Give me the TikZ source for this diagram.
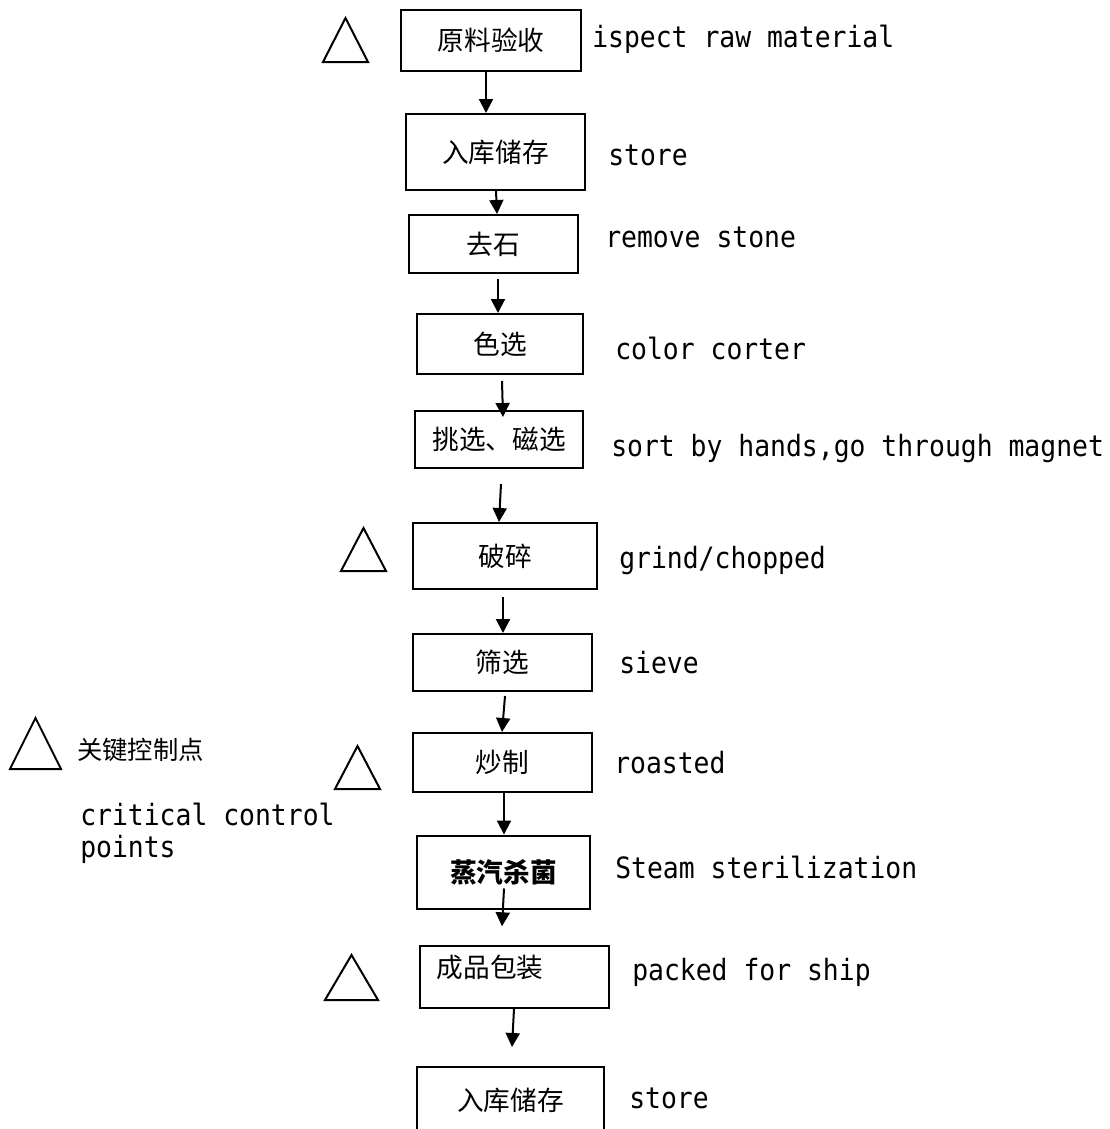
\documentclass[tikz,border=0pt]{standalone}
\usepackage{fontspec}
\usetikzlibrary{arrows.meta,calc}
\newfontfamily\cjk{Noto Sans CJK SC}
\newfontfamily\enmono[FakeStretch=0.9]{DejaVu Sans Mono}
\begin{document}
\begin{tikzpicture}[x=0.75pt,y=-0.75pt,
  box/.style={draw,line width=1.5pt,rectangle,inner sep=0pt,font=\cjk\fontsize{20}{20}\selectfont},
  sz/.style 2 args={minimum width=#1*0.75pt,minimum height=#2*0.75pt},
  en/.style={anchor=base west,inner sep=0pt,font=\enmono\fontsize{22}{26}\selectfont},
  arr/.style={line width=1.5pt,-{Triangle[width=10.5pt,length=10.5pt]}},
  ccp/.style={line width=1.5pt,line join=miter}]
\useasboundingbox (0,0) rectangle (1110,1129);
\clip (0,0) rectangle (1110,1129);
\fill[white] (0,0) rectangle (1110,1129);

% process boxes
\node[box,sz={180}{61}] (b1) at (491,40.5) {原料验收};
\node[box,sz={179}{76}] (b2) at (495.5,152) {入库储存};
\node[box,sz={169}{58}] (b3) at (493.5,244) {去石};
\node[box,sz={166}{60}] (b4) at (500,344) {色选};
\node[box,sz={168}{57}] (b5) at (499,439.5) {挑选、磁选};
\node[box,sz={184}{66}] (b6) at (505,556) {破碎};
\node[box,sz={179}{57}] (b7) at (502.5,662.5) {筛选};
\node[box,sz={179}{59}] (b8) at (502.5,762.5) {炒制};
\node[box,sz={173}{73},line width=2.2pt,font=\cjk\bfseries\fontsize{20}{20}\selectfont] (b9) at (503.5,872.5) {蒸汽杀菌};
\node[box,sz={189}{62},line width=1pt] (b10) at (514.5,977) {};
\node[inner sep=0pt,font=\cjk\fontsize{20}{20}\selectfont] (t10) at (490,967) {成品包装};
\node[box,sz={187}{66}] (b11) at (510.5,1100) {入库储存};

% connectors
\draw[arr] ($(b1.south)+(-5,0)$) -- ($(b2.north)+(-9.5,0)$);
\draw[arr] ($(b2.south)+(0.5,0)$) -- ($(b3.north)+(3.5,0)$);
\draw[arr] ($(b3.south)+(4.5,5)$) -- ($(b4.north)+(-2,0)$);
\draw[arr] ($(b4.south)+(2,6)$) -- ($(b5.north)+(4,7)$);
\draw[arr] ($(b5.south)+(2,15)$) -- ($(b6.north)+(-6,0)$);
\draw[arr] ($(b6.south)+(-2,7)$) -- ($(b7.north)+(0.5,0)$);
\draw[arr] ($(b7.south)+(2.5,4)$) -- ($(b8.north)+(-0.5,0)$);
\draw[arr] ($(b8.south)+(1.5,0)$) -- ($(b9.north)+(0.5,0)$);
\draw[arr] ($(b9.south)+(0.5,-22)$) -- ($(b10.north)+(-12.5,-19)$);
\draw[arr] ($(b10.south)+(-0.5,0)$) -- ($(b11.north)+(1.5,-19)$);

% critical control point markers
\draw[ccp] (323,62) -- (345.5,18) -- (368,62) -- cycle;
\draw[ccp] (341,571) -- (363.5,528) -- (386,571) -- cycle;
\draw[ccp] (335,789) -- (357.5,746) -- (380,789) -- cycle;
\draw[ccp] (325,1000) -- (351.5,955) -- (378,1000) -- cycle;

% English labels
\node[en] (l1) at (592,47) {ispect raw material};
\node[en] (l2) at (608,165) {store};
\node[en] (l3) at (605,247) {remove stone};
\node[en] (l4) at (615,359) {color corter};
\node[en] (l5) at (611,456) {sort by hands,go through magnet};
\node[en] (l6) at (619,568) {grind/chopped};
\node[en] (l7) at (619,673) {sieve};
\node[en] (l8) at (614,773) {roasted};
\node[en] (l9) at (615,878) {Steam sterilization};
\node[en] (l10) at (632,980) {packed for ship};
\node[en] (l11) at (629,1108) {store};

% legend
\draw[ccp] (10,769) -- (35.5,718) -- (61,769) -- cycle;
\node[anchor=west,inner sep=0pt,font=\cjk\fontsize{19}{19}\selectfont] (lg0) at (77,750) {关键控制点};
\node[en] (lg1) at (80,825) {critical control};
\node[en] (lg2) at (80,857) {points};
\end{tikzpicture}
\end{document}
